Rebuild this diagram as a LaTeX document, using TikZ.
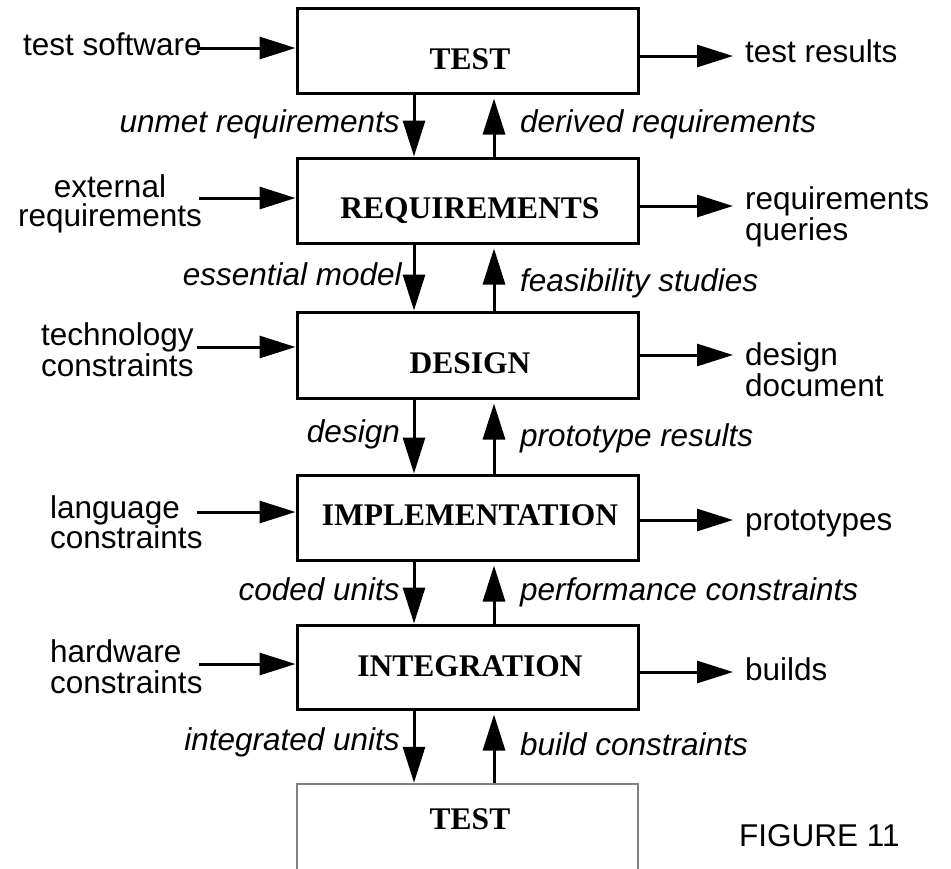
\documentclass[tikz,border=0pt]{standalone}
\usepackage{fontspec}
\setmainfont{Liberation Serif}
\setsansfont{Liberation Sans}
\usetikzlibrary{arrows.meta}
\begin{document}
\begin{tikzpicture}[x=1pt,y=-1pt,
  box/.style={draw, line width=3pt, minimum width=341pt, minimum height=85pt, inner sep=0pt},
  graybox/.style={box, draw=black!50, line width=2.5pt},
  boxlbl/.style={font=\rmfamily\bfseries\fontsize{31.5}{30}\selectfont, inner sep=0pt},
  io/.style={font=\sffamily\fontsize{31.5}{30}\selectfont, inner sep=0pt},
  flow/.style={font=\sffamily\itshape\fontsize{31.5}{30}\selectfont, inner sep=0pt},
  arr/.style={line width=3pt, -{Triangle[length=36pt,width=22pt]}},
]
\useasboundingbox (0,0) rectangle (951,868);
\clip (0,0) rectangle (951,868);

% boxes
\node[box] (t1) at (467.5,50.5) {};
\node[box] (rq) at (467.5,200.5) {};
\node[box, minimum height=86pt] (ds) at (467.5,355) {};
\node[box] (im) at (467.5,517.5) {};
\node[box, minimum height=84pt] (ig) at (467.5,667) {};
\node[graybox, minimum height=96pt] (t2) at (467.5,832) {};

% box labels
\node[boxlbl] (t1l) at (470,59) {TEST};
\node[boxlbl] (rql) at (470,211) {REQUIREMENTS};
\node[boxlbl] (dsl) at (470,363) {DESIGN};
\node[boxlbl] (iml) at (470,515) {IMPLEMENTATION};
\node[boxlbl] (igl) at (470,666.5) {INTEGRATION};
\node[boxlbl] (t2l) at (470,819) {TEST};

% vertical flow columns
\coordinate (dx) at (414,0);
\coordinate (ux) at (494,0);

\draw[arr] (t1.south -| dx) -- (rq.north -| dx);
\draw[arr, shorten >=4pt] (rq.north -| ux) -- (t1.south -| ux);
\draw[arr] (rq.south -| dx) -- (ds.north -| dx);
\draw[arr, shorten >=4pt] (ds.north -| ux) -- (rq.south -| ux);
\draw[arr] (ds.south -| dx) -- (im.north -| dx);
\draw[arr, shorten >=4pt] (im.north -| ux) -- (ds.south -| ux);
\draw[arr] (im.south -| dx) -- (ig.north -| dx);
\draw[arr, shorten >=4pt] (ig.north -| ux) -- (im.south -| ux);
\draw[arr] (ig.south -| dx) -- (t2.north -| dx);
\draw[arr, shorten >=4pt] (t2.north -| ux) -- (ig.south -| ux);

% flow labels
\node[flow, anchor=base east] (f1) at (400,132) {unmet requirements};
\node[flow, anchor=base west] (f2) at (520,132) {derived requirements};
\node[flow, anchor=base east] (f3) at (402,285) {essential model};
\node[flow, anchor=base west] (f4) at (520,291) {feasibility studies};
\node[flow, anchor=base east] (f5) at (400,442) {design};
\node[flow, anchor=base west] (f6) at (520,446) {prototype results};
\node[flow, anchor=base east] (f7) at (400,600) {coded units};
\node[flow, anchor=base west] (f8) at (520,600) {performance constraints};
\node[flow, anchor=base east] (f9) at (400,750) {integrated units};
\node[flow, anchor=base west] (f10) at (520,755) {build constraints};

% inputs (base anchor of a multi-line node = last line)
\node[io, anchor=base west] (ts) at (23,55) {test software};
\node[io, align=center, anchor=base, font=\sffamily\fontsize{31.5}{29}\selectfont] (er) at (110,226) {external\\requirements};
\node[io, align=left, anchor=base west, font=\sffamily\fontsize{31.5}{31}\selectfont] (tc) at (41,376) {technology\\constraints};
\node[io, align=left, anchor=base west] (lc) at (50,548) {language\\constraints};
\node[io, align=left, anchor=base west, font=\sffamily\fontsize{31.5}{31}\selectfont] (hc) at (50,693) {hardware\\constraints};
\coordinate (i1) at (197,48);
\coordinate (i2) at (199,198);
\coordinate (i3) at (197,347);
\coordinate (i4) at (197,512);
\coordinate (i5) at (199,664);
\draw[arr] (i1) -- (i1 -| t1.west);
\draw[arr] (i2) -- (i2 -| rq.west);
\draw[arr] (i3) -- (i3 -| ds.west);
\draw[arr] (i4) -- (i4 -| im.west);
\draw[arr] (i5) -- (i5 -| ig.west);

% outputs
\node[io, anchor=base west] (tr) at (745,62) {test results};
\node[io, align=left, anchor=base west, font=\sffamily\fontsize{31.5}{29}\selectfont] (rqq) at (745,240) {requirements\\queries};
\node[io, align=left, anchor=base west, font=\sffamily\fontsize{31.5}{31}\selectfont] (dd) at (745,396) {design\\document};
\node[io, anchor=base west] (pt) at (745,530) {prototypes};
\node[io, anchor=base west] (bd) at (745,680) {builds};
\coordinate (o1) at (733,56);
\coordinate (o2) at (733,206);
\coordinate (o3) at (733,355);
\coordinate (o4) at (733,520);
\coordinate (o5) at (733,672);
\draw[arr] (o1 -| t1.east) -- (o1);
\draw[arr] (o2 -| rq.east) -- (o2);
\draw[arr] (o3 -| ds.east) -- (o3);
\draw[arr] (o4 -| im.east) -- (o4);
\draw[arr] (o5 -| ig.east) -- (o5);

\node[io, anchor=base west] (fig) at (739,846) {FIGURE 11};
\end{tikzpicture}
\end{document}
